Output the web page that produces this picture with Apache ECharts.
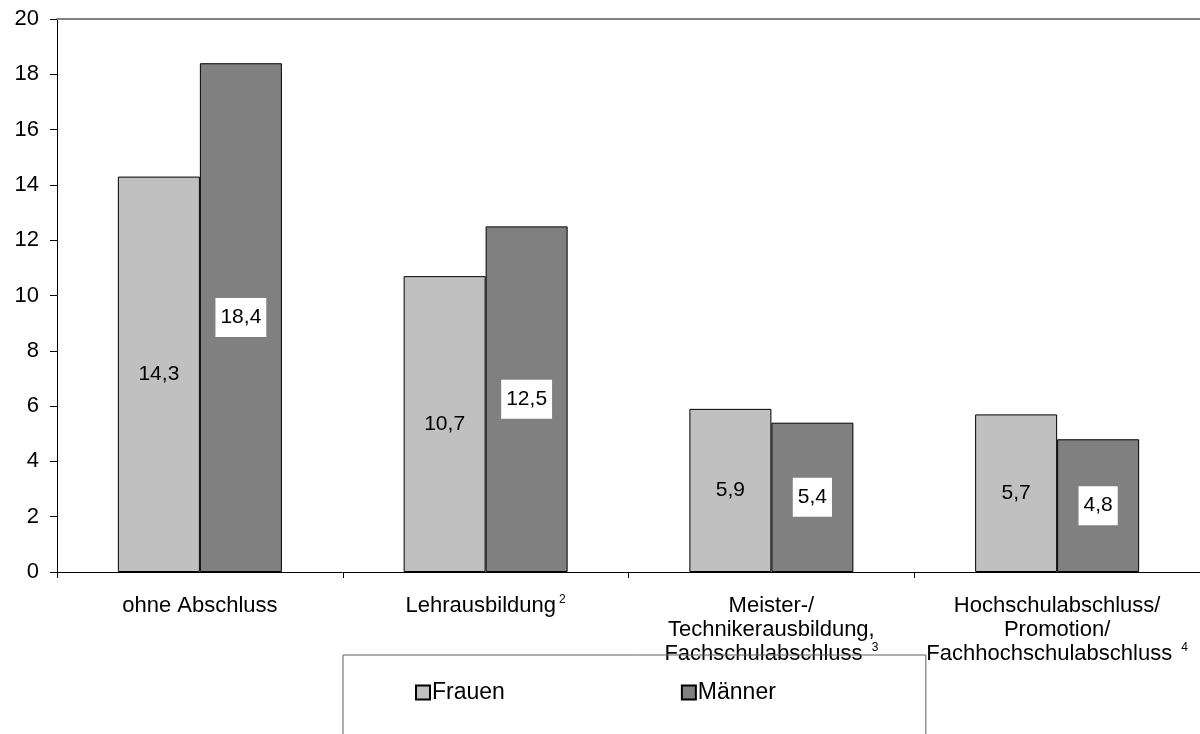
<!DOCTYPE html>
<html>
<head>
<meta charset="utf-8">
<script src="https://cdn.jsdelivr.net/npm/echarts@6/dist/echarts.min.js"></script>
<style>
  html, body { margin: 0; padding: 0; background: #fff; }
  #chart { width: 1200px; height: 734px; }
</style>
</head>
<body>
<div id="chart"></div>
<script>
// Kategorien und Fußnotenzeichen
var categories = ['ohne Abschluss', 'Lehrausbildung', 'Meister-/\nTechnikerausbildung,\nFachschulabschluss', 'Hochschulabschluss/\nPromotion/\nFachhochschulabschluss'];
var footnotes = ['', '2', '3', '4'];
var frauen = [14.3, 10.7, 5.9, 5.7];
var maenner = [18.4, 12.5, 5.4, 4.8];
var yTicks = [0, 2, 4, 6, 8, 10, 12, 14, 16, 18, 20];

var fontFam = 'Liberation Sans, Arial, sans-serif';

var chart = echarts.init(document.getElementById('chart'));

function fmtNum(v) {
  return String(v.toFixed(1)).replace('.', ',');
}

chart.setOption({
  animation: false,
  textStyle: { fontFamily: fontFam, color: '#000' },
  grid: {
    left: 57,
    top: 19,
    width: 1145,
    bottom: 162
  },
  legend: {
    left: 343,
    top: 655,
    orient: 'horizontal',
    itemGap: 176,
    itemWidth: 14,
    itemHeight: 14,
    padding: [26, 150, 60, 72],
    borderColor: '#606060',
    borderWidth: 1,
    icon: 'rect',
    textStyle: { fontSize: 23, color: '#000', fontFamily: fontFam, padding: [0, 0, 0, -3] },
    data: ['Frauen', 'Männer']
  },
  xAxis: [{
    type: 'category',
    data: categories,
    axisLine: { lineStyle: { color: '#000', width: 1 } },
    axisTick: { show: true, length: 6, lineStyle: { color: '#000' } },
    axisLabel: {
      interval: 0,
      margin: 22,
      fontSize: 22,
      lineHeight: 24,
      color: '#000',
      formatter: function (val, idx) {
        var fn = footnotes[idx];
        if (!fn) return val;
        return val + (idx === 1 ? '' : ' ') + '{sup|' + fn + '}';
      },
      rich: {
        sup: { fontSize: 12, verticalAlign: 'top', lineHeight: 24, padding: [0, 0, 8, 3] }
      }
    }
  }, {
    type: 'category',
    position: 'top',
    data: categories,
    axisLine: { lineStyle: { color: '#808080', width: 2 } },
    axisTick: { show: false },
    axisLabel: { show: false }
  }],
  yAxis: {
    type: 'value',
    min: yTicks[0],
    max: yTicks[yTicks.length - 1],
    interval: 2,
    splitLine: { show: false },
    axisLine: { show: true, lineStyle: { color: '#000', width: 1 } },
    axisTick: { show: true, length: 7, lineStyle: { color: '#000' } },
    axisLabel: { fontSize: 22, color: '#000', margin: 18 }
  },
  series: [{
    name: 'Frauen',
    type: 'bar',
    data: frauen,
    barWidth: 82,
    barGap: '0%',
    itemStyle: { color: '#c0c0c0', borderColor: '#000', borderWidth: 1 },
    label: {
      show: true,
      position: 'inside',
      fontSize: 21,
      color: '#000',
      formatter: function (p) { return fmtNum(p.value); }
    }
  }, {
    name: 'Männer',
    type: 'bar',
    data: maenner,
    barWidth: 82,
    barGap: '0%',
    itemStyle: { color: '#808080', borderColor: '#000', borderWidth: 1 },
    label: {
      show: true,
      position: 'inside',
      fontSize: 21,
      color: '#000',
      backgroundColor: '#fff',
      padding: [10, 5, 8, 5],
      formatter: function (p) { return fmtNum(p.value); }
    }
  }]
});
</script>
</body>
</html>
